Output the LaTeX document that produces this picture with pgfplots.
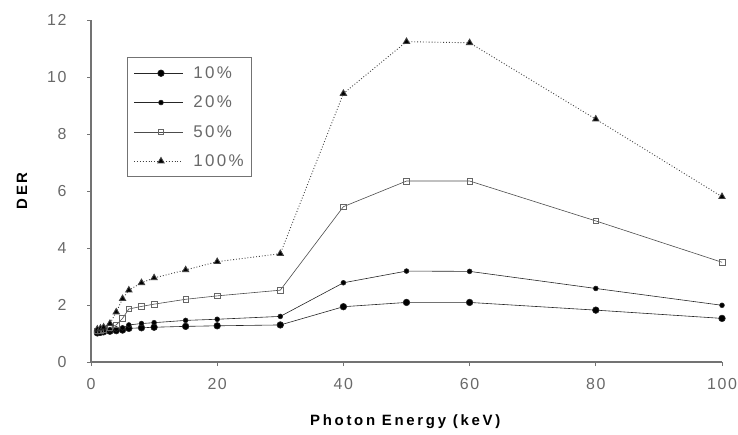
\documentclass[border=0pt]{standalone}
\usepackage{fontspec}
\setmainfont{Liberation Sans}
\usepackage{pgfplots}
\pgfplotsset{compat=1.18}
\definecolor{axgray}{RGB}{115,115,115}
\definecolor{txtgray}{RGB}{105,105,105}
\newfontfamily\tickfont[LetterSpace=10]{Liberation Sans}
\newfontfamily\legfont[LetterSpace=14]{Liberation Sans}
\newfontfamily\labfont[LetterSpace=18]{Liberation Sans}
\begin{document}
\begin{tikzpicture}
\begin{axis}[
  name=ax,
  width=631bp, height=342bp, scale only axis,
  xmin=0, xmax=100, ymin=0, ymax=12,
  xtick={0,20,40,60,80,100}, ytick={0,2,4,6,8,10,12},
  axis x line*=bottom, axis y line*=left,
  axis line style={axgray, line width=2pt, -},
  tick style={axgray, line width=0.9pt},
  tick align=outside, major tick length=4bp,
  /pgf/number format/assume math mode=true,
  ticklabel style={font=\tickfont\fontsize{16}{18}\selectfont, text=txtgray},
  xticklabel style={yshift=-9bp},
  yticklabel style={xshift=-17bp},
  xlabel={Photon Energy (keV)},
  ylabel={DER},
  every axis x label/.style={at={(axis description cs:0.498,0)}, anchor=center, yshift=-60bp, font=\labfont\bfseries\fontsize{15}{17}\selectfont},
  every axis y label/.style={at={(axis description cs:0,0.5)}, rotate=90, anchor=center, yshift=69bp, font=\labfont\bfseries\fontsize{15}{17}\selectfont},
  legend style={at={(0.057,0.892)}, anchor=north west, draw=axgray, line width=1.3pt,
    font=\legfont\fontsize{17}{19}\selectfont, text=txtgray,
    row sep=12bp, inner xsep=6bp, inner ysep=7bp},
  legend cell align=left,
  legend image code/.code={\draw[#1, line width=0.6pt] (0cm,0cm) -- (1.72cm,0cm); \draw[#1, mark repeat=2, mark phase=2] plot coordinates {(0cm,0cm) (0.95cm,0cm) (1.72cm,0cm)};},
  clip=false,
]
\addplot[black!85, line width=0.6pt, mark=*, mark size=3.3bp, mark options={solid, fill=black}] coordinates {
(1,1.02) (1.5,1.04) (2,1.06) (3,1.08) (4,1.10) (5,1.12) (6,1.18) (8,1.20) (10,1.22) (15,1.25) (20,1.27) (30,1.30) (40,1.94) (50,2.09) (60,2.09) (80,1.82) (100,1.53)};
\addlegendentry{\hspace{8bp}10\%}
\addplot[black!85, line width=0.6pt, mark=*, mark size=2.4bp, mark options={solid, fill=black}] coordinates {
(1,1.05) (1.5,1.07) (2,1.10) (3,1.13) (4,1.16) (5,1.20) (6,1.30) (8,1.35) (10,1.38) (15,1.46) (20,1.50) (30,1.60) (40,2.78) (50,3.19) (60,3.18) (80,2.58) (100,1.99)};
\addlegendentry{\hspace{8bp}20\%}
\addplot[black!70, line width=0.6pt, mark=square, mark size=2.8bp, mark options={solid, draw=black!60, fill=white}] coordinates {
(1,1.10) (1.5,1.12) (2,1.15) (3,1.20) (4,1.30) (5,1.53) (6,1.86) (8,1.95) (10,2.03) (15,2.20) (20,2.32) (30,2.52) (40,5.45) (50,6.35) (60,6.35) (80,4.95) (100,3.50)};
\addlegendentry{\hspace{8bp}50\%}
\addplot[black!75, line width=0.9pt, dotted, mark=triangle*, mark size=3.6bp, mark options={solid, fill=black}] coordinates {
(1,1.15) (1.5,1.18) (2,1.22) (3,1.35) (4,1.75) (5,2.22) (6,2.52) (8,2.78) (10,2.95) (15,3.23) (20,3.52) (30,3.80) (40,9.42) (50,11.24) (60,11.20) (80,8.52) (100,5.80)};
\addlegendentry{\hspace{8bp}100\%}
\end{axis}
\pgfresetboundingbox
\path ([shift={(-91bp,-73bp)}]ax.south west) rectangle ([shift={(16bp,20bp)}]ax.north east);
\end{tikzpicture}
\end{document}
